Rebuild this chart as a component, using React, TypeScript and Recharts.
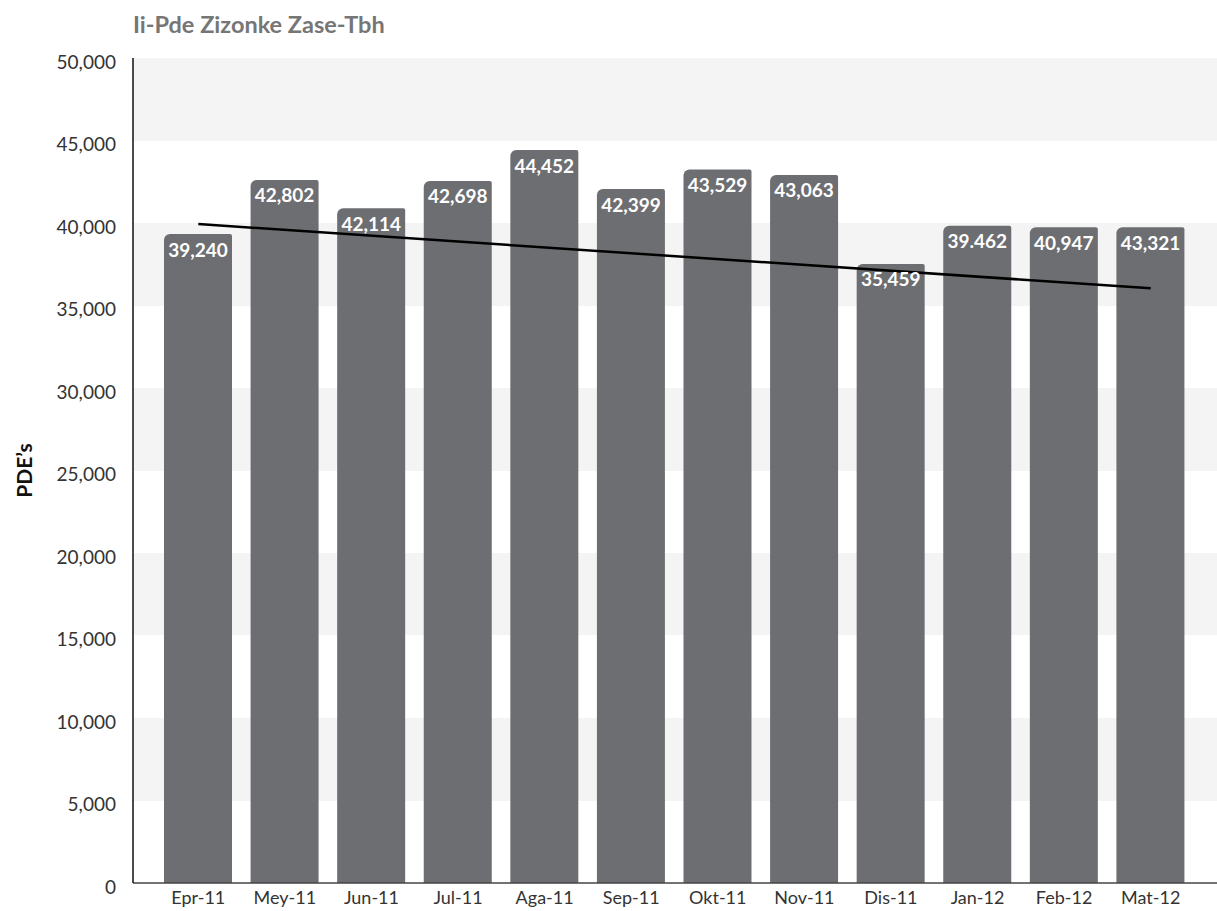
import React from "react";
import {
  ComposedChart,
  Bar,
  XAxis,
  YAxis,
  CartesianGrid,
  LabelList,
  ReferenceLine,
} from "recharts";

const months = ["Epr-11", "Mey-11", "Jun-11", "Jul-11", "Aga-11", "Sep-11", "Okt-11", "Nov-11", "Dis-11", "Jan-12", "Feb-12", "Mat-12"];
const barValues = [39330, 42610, 40890, 42550, 44420, 42060, 43250, 42910, 37520, 39840, 39740, 39740];
const barLabels = ["39,240", "42,802", "42,114", "42,698", "44,452", "42,399", "43,529", "43,063", "35,459", "39.462", "40,947", "43,321"];
const yTicks = [0, 5000, 10000, 15000, 20000, 25000, 30000, 35000, 40000, 45000, 50000];
const trendStart = 39940;
const trendEnd = 36040;

const data = months.map((m, i) => ({ month: m, value: barValues[i], label: barLabels[i] }));

const FONT = "Lato, 'Open Sans', sans-serif";
const BAR_COLOR = "#6d6e72";

const renderBarLabel = (props: any) => {
  const { x, y, width, value } = props;
  return (
    <text
      x={Number(x) + Number(width) / 2}
      y={Number(y) + 15}
      fill="#ffffff"
      fontFamily={FONT}
      fontWeight={700}
      fontSize={19}
      textAnchor="middle"
      dominantBaseline="central"
    >
      {value}
    </text>
  );
};

const renderYLabel = (props: any) => {
  const vb = props.viewBox || {};
  const cx = 23;
  const cy = vb.y + vb.height / 2;
  return (
    <text
      x={cx}
      y={cy}
      transform={`rotate(-90 ${cx} ${cy})`}
      textAnchor="middle"
      dominantBaseline="central"
      fontFamily={FONT}
      fontWeight={700}
      fontSize={21}
      fill="#111111"
    >
      PDE’s
    </text>
  );
};

export default function App() {
  return (
    <div style={{ position: "absolute", left: 0, top: 0, width: 1217, height: 911, background: "#ffffff" }}>
      <div
        style={{
          position: "absolute",
          left: 133,
          top: 12,
          fontFamily: FONT,
          fontWeight: 700,
          fontSize: 23.5,
          color: "#767676",
          lineHeight: "24px",
          whiteSpace: "nowrap",
        }}
      >
        Ii-Pde Zizonke Zase-Tbh
      </div>
      <ComposedChart
        width={1217}
        height={911}
        data={data}
        margin={{ top: 58, right: 0, bottom: 0, left: 0 }}
      >
        <CartesianGrid
          vertical={false}
          stroke="none"
          horizontalFill={["#f4f4f4", "#ffffff"]}
          fillOpacity={1}
        />
        <XAxis
          dataKey="month"
          height={28}
          padding={{ left: 22, right: 23 }}
          tickLine={false}
          tickSize={0}
          tickMargin={8}
          axisLine={{ stroke: "#444444", strokeWidth: 1.5 }}
          tick={{ fontFamily: FONT, fontSize: 18, fill: "#333333" }}
          interval={0}
        />
        <YAxis
          width={133}
          domain={[0, 50000]}
          ticks={yTicks}
          tickLine={false}
          tickSize={0}
          tickMargin={17}
          axisLine={{ stroke: "#111111", strokeWidth: 1.5 }}
          tick={{ fontFamily: FONT, fontSize: 19, fill: "#333333", dy: 4 }}
          tickFormatter={(v: number) => v.toLocaleString("en-US")}
          label={renderYLabel}
        />
        <Bar dataKey="value" fill={BAR_COLOR} barSize={68} radius={[6, 2, 0, 0]} isAnimationActive={false}>
          <LabelList dataKey="label" content={renderBarLabel} />
        </Bar>
        <ReferenceLine
          segment={[
            { x: months[0], y: trendStart },
            { x: months[months.length - 1], y: trendEnd },
          ]}
          stroke="#000000"
          strokeWidth={2.5}
          ifOverflow="visible"
        />
      </ComposedChart>
    </div>
  );
}
